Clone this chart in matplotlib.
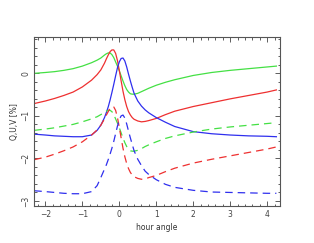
import matplotlib
matplotlib.use('Agg')
import matplotlib.pyplot as plt
from matplotlib.ticker import MultipleLocator

# hour angle samples (denser around the peaks)
hour = [-2.3, -2.0, -1.75, -1.5, -1.25, -1.0, -0.75, -0.6, -0.5, -0.4, -0.35, -0.3, -0.25,
        -0.2, -0.15, -0.1, -0.05, 0.0, 0.05, 0.1, 0.15, 0.2, 0.25, 0.3, 0.35, 0.4, 0.5,
        0.6, 0.7, 0.8, 1.0, 1.25, 1.5, 2.0, 2.5, 3.0, 3.5, 4.0, 4.25]

# solid curves
q_solid = [0.0, 0.02, 0.04, 0.07, 0.11, 0.17, 0.25, 0.31, 0.36, 0.43, 0.46, 0.48, 0.48,
           0.44, 0.37, 0.27, 0.17, 0.06, -0.06, -0.18, -0.29, -0.38, -0.44, -0.48, -0.49, -0.49, -0.47,
           -0.43, -0.39, -0.35, -0.28, -0.21, -0.15, -0.05, 0.02, 0.07, 0.11, 0.15, 0.17]
u_solid = [-0.71, -0.65, -0.59, -0.52, -0.44, -0.32, -0.16, -0.03, 0.08, 0.24, 0.34, 0.43, 0.51,
           0.55, 0.55, 0.47, 0.3, 0.07, -0.18, -0.42, -0.62, -0.78, -0.9, -0.98, -1.04, -1.08, -1.12,
           -1.14, -1.13, -1.11, -1.06, -0.97, -0.89, -0.78, -0.69, -0.6, -0.52, -0.44, -0.39]
v_solid = [-1.43, -1.45, -1.47, -1.48, -1.49, -1.49, -1.45, -1.34, -1.22, -1.04, -0.92, -0.79, -0.63,
           -0.45, -0.26, -0.06, 0.13, 0.27, 0.35, 0.36, 0.29, 0.15, -0.02, -0.18, -0.33, -0.47, -0.65,
           -0.77, -0.86, -0.93, -1.04, -1.15, -1.25, -1.37, -1.42, -1.45, -1.47, -1.48, -1.49]

# dashed curves
q_dash = [-1.34, -1.31, -1.28, -1.24, -1.2, -1.14, -1.07, -1.02, -0.97, -0.92, -0.89, -0.87, -0.87,
          -0.9, -0.97, -1.07, -1.17, -1.28, -1.4, -1.52, -1.63, -1.72, -1.78, -1.82, -1.83, -1.83, -1.81,
          -1.77, -1.72, -1.68, -1.61, -1.53, -1.47, -1.38, -1.31, -1.26, -1.22, -1.18, -1.16]
u_dash = [-2.03, -1.97, -1.9, -1.82, -1.73, -1.61, -1.45, -1.33, -1.22, -1.07, -0.98, -0.9, -0.82,
          -0.78, -0.79, -0.87, -1.04, -1.27, -1.52, -1.76, -1.96, -2.12, -2.24, -2.33, -2.39, -2.43, -2.47,
          -2.49, -2.48, -2.45, -2.4, -2.31, -2.23, -2.11, -2.02, -1.94, -1.86, -1.78, -1.73]
v_dash = [-2.76, -2.78, -2.8, -2.82, -2.83, -2.83, -2.78, -2.64, -2.45, -2.25, -2.15, -2.03, -1.9,
          -1.76, -1.6, -1.42, -1.24, -1.09, -1.0, -0.98, -1.05, -1.19, -1.36, -1.52, -1.67, -1.82, -2.02,
          -2.17, -2.3, -2.38, -2.5, -2.61, -2.68, -2.75, -2.79, -2.8, -2.81, -2.82, -2.82]

green = '#44e044'
red = '#ee3030'
blue = '#2f2fee'
lw = 0.9

fig = plt.figure(figsize=(3.14, 2.43), dpi=100)
ax = fig.add_axes([0.108, 0.152, 0.784, 0.695])

ax.plot(hour, q_solid, color=green, lw=lw)
ax.plot(hour, u_solid, color=red, lw=lw)
ax.plot(hour, v_solid, color=blue, lw=lw)
ax.plot(hour, q_dash, color=green, lw=lw, dashes=(6, 4))
ax.plot(hour, u_dash, color=red, lw=lw, dashes=(6, 4))
ax.plot(hour, v_dash, color=blue, lw=lw, dashes=(6, 4))

ax.set_xlim(-2.31, 4.35)
ax.set_ylim(-3.12, 0.85)
ax.xaxis.set_major_locator(MultipleLocator(1))
ax.xaxis.set_minor_locator(MultipleLocator(0.2))
ax.yaxis.set_major_locator(MultipleLocator(1))
ax.yaxis.set_minor_locator(MultipleLocator(0.2))

ax.tick_params(which='both', direction='in', top=True, right=True,
               colors='#444444', labelsize=5.5, width=0.6)
ax.tick_params(which='major', length=3.5, pad=2.5)
ax.tick_params(which='minor', length=1.8)
for lab in ax.get_yticklabels():
    lab.set_rotation(90)
    lab.set_va('center')
for sp in ax.spines.values():
    sp.set_color('#555555')
    sp.set_linewidth(0.8)

ax.set_xlabel('hour angle', fontsize=5.5, color='#333333', labelpad=3)
ax.set_ylabel('Q,U,V [%]', fontsize=5.5, color='#333333', labelpad=2)

fig.savefig('out.png', dpi=100)
